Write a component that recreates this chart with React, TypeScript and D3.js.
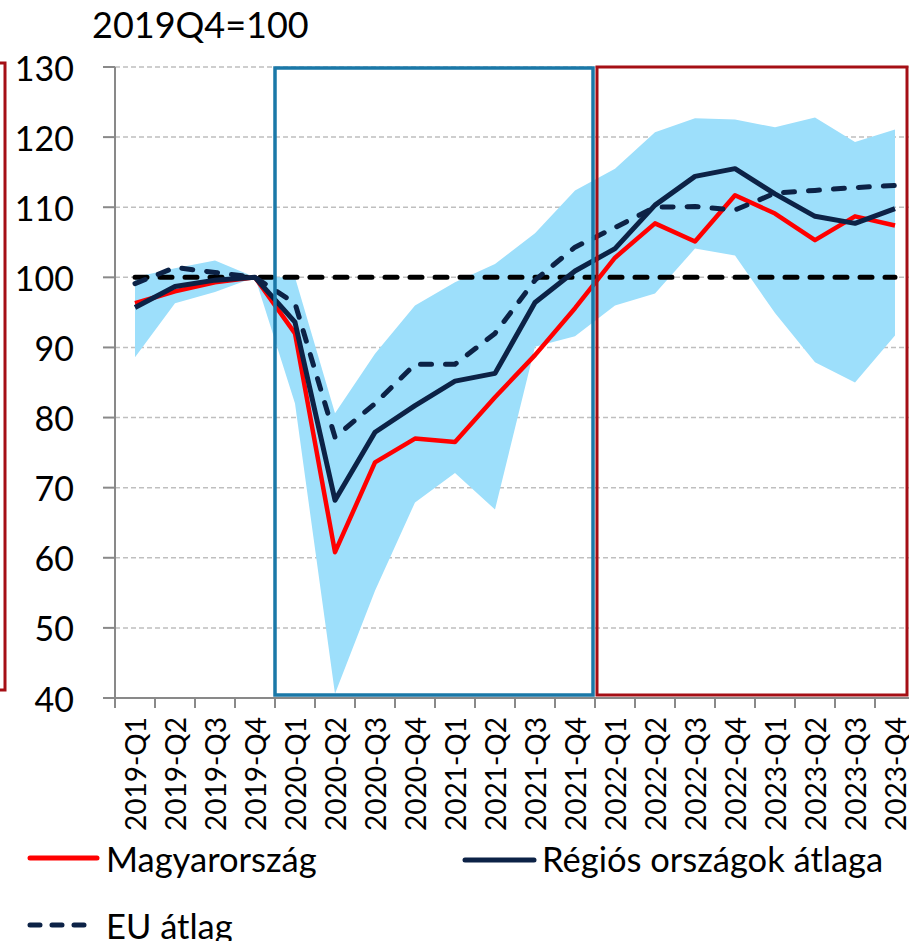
import React from "react";
import * as d3 from "d3";

const categories = [
  "2019-Q1", "2019-Q2", "2019-Q3", "2019-Q4",
  "2020-Q1", "2020-Q2", "2020-Q3", "2020-Q4",
  "2021-Q1", "2021-Q2", "2021-Q3", "2021-Q4",
  "2022-Q1", "2022-Q2", "2022-Q3", "2022-Q4",
  "2023-Q1", "2023-Q2", "2023-Q3", "2023-Q4",
];

const hungary = [96.3, 98.0, 99.3, 100, 92.0, 60.8, 73.6, 77.0, 76.5, 82.9, 88.9, 95.6, 102.8, 107.7, 105.1, 111.7, 109.1, 105.3, 108.7, 107.4];
const regional = [95.7, 98.7, 99.6, 100, 93.6, 68.2, 77.9, 81.7, 85.2, 86.3, 96.4, 100.9, 104.1, 110.3, 114.4, 115.5, 111.9, 108.7, 107.7, 109.8];
const euAvg = [99.1, 101.4, 100.7, 100, 96.3, 77.2, 82.0, 87.6, 87.6, 92.0, 99.6, 104.3, 107.1, 110.0, 110.1, 109.6, 112.0, 112.4, 112.8, 113.1];
const bandUpper = [100, 101.3, 102.4, 100, 100, 80.6, 89.1, 96.0, 99.3, 101.9, 106.3, 112.4, 115.5, 120.7, 122.7, 122.5, 121.4, 122.8, 119.3, 121.1];
const bandLower = [88.6, 96.3, 97.9, 100, 82.0, 40.6, 55.3, 67.9, 72.1, 66.9, 90.1, 91.6, 96.0, 97.7, 104.1, 103.1, 94.9, 87.9, 85.0, 91.7];
const referenceLevel = 100;
const yTicks = [40, 50, 60, 70, 80, 90, 100, 110, 120, 130];

const FONT = "Lato, 'Open Sans', sans-serif";

export default function App() {
  const width = 909;
  const height = 941;

  const x = d3.scaleBand().domain(categories).range([115, 915]);
  const bw = x.bandwidth();
  const cx = (c: string) => (x(c) as number) + bw / 2;
  const y = d3.scaleLinear().domain([40, 130]).range([698, 67]);

  const line = d3
    .line<number>()
    .x((_, i) => cx(categories[i]))
    .y((d) => y(d));

  const area = d3
    .area<number>()
    .x((_, i) => cx(categories[i]))
    .y0((_, i) => y(bandLower[i]))
    .y1((d) => y(d));

  const x0 = x.range()[0];
  const y0 = y(40);

  const blueL = x("2020-Q1") as number;
  const blueR = (x("2021-Q4") as number) + bw - 2;
  const redL = (x("2022-Q1") as number) + 2;
  const redR = (x("2023-Q4") as number) + bw - 8;

  return (
    <svg
      width={width}
      height={height}
      style={{ position: "absolute", left: 0, top: 0, background: "#fff" }}
      fontFamily={FONT}
    >
      {/* piece of the neighbouring panel */}
      <rect x={-20} y={63} width={25} height={627} fill="none" stroke="#A50F15" strokeWidth={3} />

      <text x={92} y={38} fontSize={36} fill="#000">2019Q4=100</text>

      {/* grid */}
      {yTicks.filter((t) => t > 40).map((t) => (
        <line key={t} x1={x0} x2={915} y1={y(t)} y2={y(t)} stroke="#BFBFBF" strokeWidth={1.5} strokeDasharray="5 3" />
      ))}

      {/* band */}
      <path d={area(bandUpper) || ""} fill="#9DDFFB" />

      {/* axes */}
      <line x1={x0} x2={x0} y1={y(130)} y2={y0} stroke="#898989" strokeWidth={2} />
      <line x1={x0 - 12} x2={915} y1={y0} y2={y0} stroke="#898989" strokeWidth={2} />
      {yTicks.map((t) => (
        <g key={t}>
          <line x1={x0 - 12} x2={x0} y1={y(t)} y2={y(t)} stroke="#898989" strokeWidth={2} />
          <text x={74} y={y(t)} fontSize={34} textAnchor="end" dominantBaseline="central" fill="#000">
            {t}
          </text>
        </g>
      ))}
      {categories.map((c) => (
        <g key={c}>
          <line x1={x(c) as number} x2={x(c) as number} y1={y0} y2={y0 + 10} stroke="#898989" strokeWidth={2} />
          <text
            transform={`translate(${cx(c)},${y0 + 19}) rotate(-90)`}
            fontSize={28}
            textAnchor="end"
            dominantBaseline="central"
            fill="#000"
          >
            {c}
          </text>
        </g>
      ))}

      {/* reference level */}
      <line
        x1={cx(categories[0])}
        x2={cx(categories[categories.length - 1])}
        y1={y(referenceLevel)}
        y2={y(referenceLevel)}
        stroke="#000"
        strokeWidth={5}
        strokeDasharray="12 13"
        strokeLinecap="round"
      />

      <path d={line(hungary) || ""} fill="none" stroke="#FF0000" strokeWidth={4.5} strokeLinejoin="round" />
      <path d={line(regional) || ""} fill="none" stroke="#0C2246" strokeWidth={5} strokeLinejoin="round" />
      <path d={line(euAvg) || ""} fill="none" stroke="#0C2246" strokeWidth={5} strokeDasharray="11 14" strokeLinecap="round" strokeLinejoin="round" />

      {/* period boxes */}
      <rect x={redL} y={y(130)} width={redR - redL} height={y0 - 3 - y(130)} fill="none" stroke="#A50F15" strokeWidth={3} />
      <rect x={blueL} y={y(130) + 1} width={blueR - blueL} height={y0 - 4 - y(130)} fill="none" stroke="#1A78A8" strokeWidth={3.5} />

      {/* legend */}
      <line x1={30} x2={97} y1={858} y2={858} stroke="#FF0000" strokeWidth={5} strokeLinecap="round" />
      <text x={106} y={858} fontSize={34.5} dominantBaseline="central" fill="#000">Magyarország</text>
      <line x1={465} x2={534} y1={860} y2={860} stroke="#0C2246" strokeWidth={5} strokeLinecap="round" />
      <text x={542} y={858} fontSize={34.5} dominantBaseline="central" fill="#000">Régiós országok átlaga</text>
      <line x1={30} x2={92} y1={925} y2={925} stroke="#0C2246" strokeWidth={5} strokeDasharray="10 12" strokeLinecap="round" />
      <text x={106} y={925} fontSize={34.5} dominantBaseline="central" fill="#000">EU átlag</text>
    </svg>
  );
}
